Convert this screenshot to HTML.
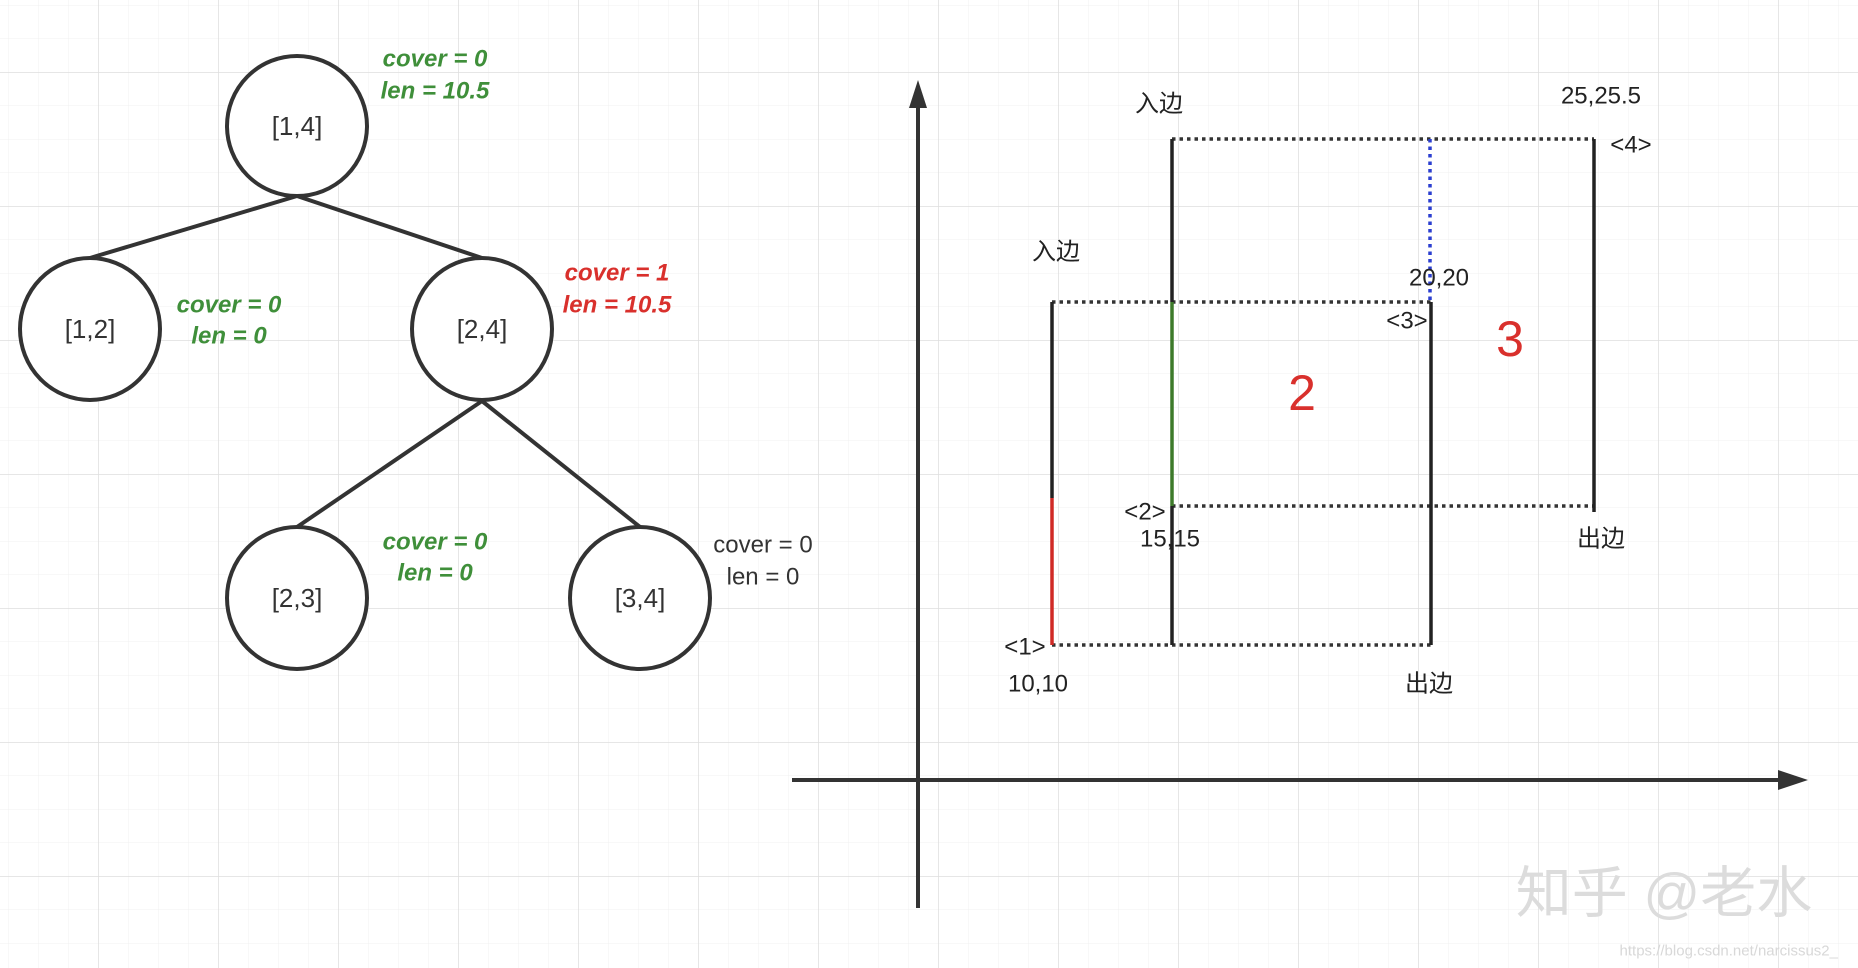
<!DOCTYPE html>
<html><head><meta charset="utf-8"><style>
html,body{margin:0;padding:0;background:#fff}
svg{display:block}
text{font-family:"Liberation Sans","Noto Sans CJK SC",sans-serif}
</style></head><body>
<svg width="1858" height="968" viewBox="0 0 1858 968" xmlns="http://www.w3.org/2000/svg">
<defs>
<pattern id="gmin" x="8" y="5" width="30" height="33.5" patternUnits="userSpaceOnUse">
<path d="M0 0H30M0 0V33.5" stroke="#f0f0f0" stroke-width="1" fill="none"/>
</pattern>
<pattern id="gmaj" x="98" y="72" width="120" height="134" patternUnits="userSpaceOnUse">
<path d="M0 0H120M0 0V134" stroke="#dedede" stroke-width="1.5" fill="none"/>
</pattern>
</defs>
<rect width="1858" height="968" fill="#fff"/>
<rect width="1858" height="968" fill="url(#gmin)"/>
<rect width="1858" height="968" fill="url(#gmaj)"/>

<g stroke="#333" stroke-width="4" fill="none">
<line x1="297" y1="196" x2="90" y2="258"/>
<line x1="297" y1="196" x2="482" y2="258"/>
<line x1="482" y1="401" x2="297" y2="527"/>
<line x1="482" y1="401" x2="640" y2="527"/>
</g>
<g stroke="#333" stroke-width="4" fill="#fff">
<ellipse cx="297" cy="126" rx="70" ry="70"/>
<ellipse cx="90" cy="329" rx="70" ry="71"/>
<ellipse cx="482" cy="329" rx="70" ry="71"/>
<ellipse cx="297" cy="598" rx="70" ry="71"/>
<ellipse cx="640" cy="598" rx="70" ry="71"/>
</g>
<g font-size="26" fill="#333" text-anchor="middle" dominant-baseline="central">
<text x="297" y="126">[1,4]</text>
<text x="90" y="329">[1,2]</text>
<text x="482" y="329">[2,4]</text>
<text x="297" y="598">[2,3]</text>
<text x="640" y="598">[3,4]</text>
</g>
<g font-size="24" font-style="italic" font-weight="bold" text-anchor="middle" dominant-baseline="central">
<text x="435" y="59" fill="#3f8f3a">cover = 0</text>
<text x="435" y="91" fill="#3f8f3a">len = 10.5</text>
<text x="229" y="305" fill="#3f8f3a">cover = 0</text>
<text x="229" y="336" fill="#3f8f3a">len = 0</text>
<text x="617" y="273" fill="#d9302c">cover = 1</text>
<text x="617" y="305" fill="#d9302c">len = 10.5</text>
<text x="435" y="542" fill="#3f8f3a">cover = 0</text>
<text x="435" y="573" fill="#3f8f3a">len = 0</text>
</g>
<g font-size="24" fill="#333" text-anchor="middle" dominant-baseline="central">
<text x="763" y="545">cover = 0</text>
<text x="763" y="577">len = 0</text>
</g>

<g stroke="#333" stroke-width="4">
<line x1="918" y1="105" x2="918" y2="908"/>
<line x1="792" y1="780" x2="1785" y2="780"/>
</g>
<polygon points="918,80 909,108 927,108" fill="#333"/>
<polygon points="1808,780 1778,770 1778,790" fill="#333"/>

<g stroke="#333" stroke-width="3.5" stroke-dasharray="3.5,4" fill="none">
<line x1="1172" y1="139" x2="1594" y2="139"/>
<line x1="1052" y1="302" x2="1431" y2="302"/>
<line x1="1172" y1="506" x2="1594" y2="506"/>
<line x1="1052" y1="645" x2="1431" y2="645"/>
</g>
<line x1="1430" y1="139" x2="1430" y2="302" stroke="#2b3fd0" stroke-width="3.5" stroke-dasharray="3.5,4"/>

<g stroke="#222" stroke-width="3.5">
<line x1="1052" y1="302" x2="1052" y2="498"/>
<line x1="1172" y1="139" x2="1172" y2="302"/>
<line x1="1172" y1="506" x2="1172" y2="645"/>
<line x1="1431" y1="302" x2="1431" y2="645"/>
<line x1="1594" y1="139" x2="1594" y2="512"/>
</g>
<line x1="1052" y1="498" x2="1052" y2="645" stroke="#d02a26" stroke-width="3.5"/>
<line x1="1172" y1="302" x2="1172" y2="506" stroke="#3d7a2a" stroke-width="3.5"/>

<g font-size="24" fill="#222" text-anchor="middle" dominant-baseline="central">
<text x="1159" y="104">入边</text>
<text x="1056" y="252">入边</text>
<text x="1601" y="96">25,25.5</text>
<text x="1631" y="145">&lt;4&gt;</text>
<text x="1439" y="278">20,20</text>
<text x="1407" y="321">&lt;3&gt;</text>
<text x="1145" y="512">&lt;2&gt;</text>
<text x="1170" y="539">15,15</text>
<text x="1601" y="539">出边</text>
<text x="1025" y="647">&lt;1&gt;</text>
<text x="1038" y="684">10,10</text>
<text x="1429" y="684">出边</text>
</g>
<g font-size="50" fill="#d9302c" text-anchor="middle" dominant-baseline="central">
<text x="1510" y="339">3</text>
<text x="1302" y="393">2</text>
</g>
<text x="1664" y="893" font-size="56" fill="#dcdcdc" text-anchor="middle" dominant-baseline="central">知乎 @老水</text>
<text x="1838" y="951" font-size="15" fill="#d8d8d8" text-anchor="end" dominant-baseline="central">https://blog.csdn.net/narcissus2_</text>
</svg>
</body></html>
